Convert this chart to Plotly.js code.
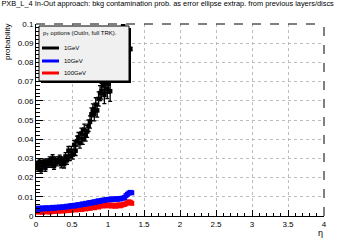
<!DOCTYPE html>
<html>
<head>
<meta charset="utf-8">
<script src="https://cdn.plot.ly/plotly-3.0.1.min.js"></script>
<style>html,body{margin:0;padding:0;background:#fff;}#chart{width:360px;height:240px;}</style>
</head>
<body>
<div id="chart"></div>
<script>
// eta bin centres
const eta = [0.01,0.03,0.05,0.07,0.09,0.11,0.13,0.15,0.17,0.19,
             0.21,0.23,0.25,0.27,0.29,0.31,0.33,0.35,0.37,0.39,
             0.41,0.43,0.45,0.47,0.49,0.51,0.53,0.55,0.57,0.59,
             0.61,0.63,0.65,0.67,0.69,0.71,0.73,0.75,0.77,0.79,
             0.81,0.83,0.85,0.87,0.89,0.91,0.93,0.95,0.97,0.99,
             1.01,1.03,1.05,1.07,1.09,1.11,1.13,1.15,1.17,1.19,
             1.21,1.23,1.25,1.27,1.29,1.31,1.33];

// 1 GeV
const etaBlack = [0.01,0.03,0.05,0.07,0.09,0.11,0.13,0.15,0.17,0.19,
                  0.21,0.23,0.25,0.27,0.29,0.31,0.33,0.35,0.37,0.39,
                  0.41,0.43,0.45,0.47,0.49,0.51,0.53,0.55,0.57,0.59,
                  0.61,0.63,0.65,0.67,0.69,0.71,0.73,0.75,0.77,0.79,
                  0.81,0.83,0.85,0.87,0.89,0.91,0.93,0.95,0.97,0.99,
                  1.01,1.03,1.21,1.31];
const prob1GeV = [0.027,0.025,0.028,0.024,0.027,0.028,0.025,0.028,0.027,0.029,
                  0.027,0.030,0.026,0.029,0.028,0.029,0.030,0.027,0.029,0.027,
                  0.031,0.029,0.034,0.031,0.034,0.032,0.037,0.034,0.039,0.041,
                  0.038,0.043,0.040,0.045,0.042,0.044,0.047,0.049,0.053,0.055,
                  0.053,0.058,0.055,0.061,0.064,0.065,0.068,0.063,0.069,0.066,
                  0.069,0.065,0.099,0.087];
const err1GeV  = [0.0016,0.0017,0.0016,0.0018,0.0017,0.0016,0.0018,0.0017,0.0016,0.0018,
                  0.0017,0.0019,0.0017,0.0018,0.0019,0.0018,0.0017,0.0019,0.0018,0.0020,
                  0.0020,0.0021,0.0022,0.0021,0.0023,0.0024,0.0023,0.0025,0.0026,0.0025,
                  0.0027,0.0028,0.0027,0.0029,0.0030,0.0031,0.0030,0.0032,0.0033,0.0034,
                  0.0035,0.0036,0.0035,0.0037,0.0039,0.0041,0.0043,0.0045,0.0047,0.0049,
                  0.0051,0.0053,0.0008,0.0008];

// 10 GeV
const prob10GeV = [0.0036,0.0041,0.0035,0.0040,0.0042,0.0037,0.0041,0.0043,0.0038,0.0042,
                   0.0041,0.0045,0.0040,0.0044,0.0046,0.0043,0.0047,0.0044,0.0048,0.0045,
                   0.0048,0.0051,0.0048,0.0052,0.0054,0.0051,0.0056,0.0053,0.0057,0.0059,
                   0.0056,0.0061,0.0063,0.0060,0.0066,0.0063,0.0068,0.0070,0.0067,0.0072,
                   0.0074,0.0071,0.0077,0.0079,0.0076,0.0081,0.0083,0.0080,0.0085,0.0086,
                   0.0087,0.0084,0.0088,0.0089,0.0086,0.0090,0.0087,0.0091,0.0088,0.0092,
                   0.0093,0.0096,0.0106,0.0113,0.0119,0.0123,0.0121];
// 100 GeV
const prob100GeV = [0.0026,0.0020,0.0027,0.0023,0.0019,0.0026,0.0022,0.0027,0.0023,0.0020,
                    0.0027,0.0023,0.0028,0.0024,0.0029,0.0025,0.0030,0.0026,0.0031,0.0027,
                    0.0031,0.0028,0.0032,0.0034,0.0029,0.0033,0.0035,0.0032,0.0036,0.0033,
                    0.0037,0.0034,0.0038,0.0040,0.0037,0.0041,0.0043,0.0040,0.0044,0.0046,
                    0.0043,0.0048,0.0050,0.0047,0.0053,0.0056,0.0052,0.0057,0.0059,0.0053,
                    0.0058,0.0054,0.0052,0.0057,0.0053,0.0051,0.0056,0.0058,0.0053,0.0057,
                    0.0059,0.0061,0.0064,0.0069,0.0074,0.0071,0.0066];

const seriesNames = ['1GeV','10GeV','100GeV'];
const seriesColors = ['#000000','#0000ff','#ff0000'];
const xTicks = [0,0.5,1,1.5,2,2.5,3,3.5,4];
const yTicks = [0,0.01,0.02,0.03,0.04,0.05,0.06,0.07,0.08,0.09,0.1];
const titleText = 'PXB_L_4 In-Out approach: bkg contamination prob. as error ellipse extrap. from previous layers/discs';
const legendTitle = 'p<sub>T</sub> options (OutIn, full TRK).';

const FONT = 'Liberation Sans, Arial, Helvetica, sans-serif';

const traces = [
  {x: eta, y: prob100GeV, type:'scatter', mode:'markers', name: seriesNames[2],
   marker:{symbol:'square', size:5, color:seriesColors[2]},
   error_y:{type:'constant', value:0.0005, color:seriesColors[2], thickness:1, width:0}},
  {x: eta, y: prob10GeV, type:'scatter', mode:'markers', name: seriesNames[1],
   marker:{symbol:'square', size:5, color:seriesColors[1]},
   error_y:{type:'constant', value:0.0005, color:seriesColors[1], thickness:1, width:0}},
  {x: etaBlack, y: prob1GeV, type:'scatter', mode:'markers', name: seriesNames[0],
   marker:{symbol:'square', size:4.5, color:seriesColors[0]},
   error_y:{type:'data', array:err1GeV, color:seriesColors[0], thickness:1.3, width:2}}
];

function px2x(p){ return (p-36)/288; }
function px2y(p){ return (216-p)/192; }

const shapes = [
  {type:'line', xref:'paper', yref:'paper', x0:0, x1:1, y0:1, y1:1, line:{color:'#000', width:1, dash:'dash'}},
  {type:'line', xref:'paper', yref:'paper', x0:1, x1:1, y0:0, y1:1, line:{color:'#000', width:1, dash:'dash'}},
  {type:'rect', xref:'paper', yref:'paper', x0:px2x(41), x1:px2x(131), y0:px2y(83), y1:px2y(28),
   line:{width:0}, fillcolor:'#000'},
  {type:'rect', xref:'paper', yref:'paper', x0:px2x(39), x1:px2x(129), y0:px2y(81), y1:px2y(26),
   line:{color:'#000', width:1}, fillcolor:'#f0f0f0'}
];
const legendY = [48, 61, 73];
const annotations = [
  {text: legendTitle, xref:'paper', yref:'paper', x:px2x(41), y:px2y(33), xanchor:'left', yanchor:'middle',
   showarrow:false, font:{family:FONT, size:6, color:'#000'}},
  {text:'probability', xref:'paper', yref:'paper', x:px2x(8), y:px2y(22), xanchor:'center', yanchor:'top',
   textangle:-90, showarrow:false, font:{family:FONT, size:8, color:'#000'}},
  {text:'η', xref:'paper', yref:'paper', x:px2x(325), y:px2y(226), xanchor:'right', yanchor:'top',
   showarrow:false, font:{family:FONT, size:9, color:'#000'}}
];
for (let i=0;i<3;i++){
  shapes.push({type:'line', xref:'paper', yref:'paper', x0:px2x(42), x1:px2x(59), y0:px2y(legendY[i]), y1:px2y(legendY[i]),
    line:{color:seriesColors[i], width:3}});
  annotations.push({text:seriesNames[i], xref:'paper', yref:'paper', x:px2x(62), y:px2y(legendY[i]),
    xanchor:'left', yanchor:'middle', showarrow:false, font:{family:FONT, size:6, color:'#000'}});
}

const layout = {
  width:360, height:240,
  margin:{l:36, r:36, t:24, b:24, pad:0},
  paper_bgcolor:'#fff', plot_bgcolor:'#fff',
  showlegend:false,
  font:{family:FONT, color:'#000'},
  title:{text:titleText, x:0.004, xref:'container', xanchor:'left', y:0.995, yref:'container', yanchor:'top',
         font:{family:FONT, size:7.4, color:'#000'}},
  xaxis:{range:[0,4], tickvals:xTicks, ticks:'inside', ticklen:6, tickwidth:1, tickcolor:'#000',
         showline:true, linecolor:'#000', linewidth:1, mirror:false, zeroline:false,
         showgrid:true, gridcolor:'#bdbdbd', griddash:'dot', gridwidth:1,
         tickfont:{family:FONT, size:8, color:'#000'},
         minor:{dtick:0.1, ticks:'inside', ticklen:3, tickcolor:'#000', showgrid:false}},
  yaxis:{range:[0,0.1], tickvals:yTicks, ticks:'inside', ticklen:7, tickwidth:1, tickcolor:'#000',
         showline:true, linecolor:'#000', linewidth:1, mirror:false, zeroline:false,
         showgrid:true, gridcolor:'#bdbdbd', griddash:'dot', gridwidth:1,
         tickfont:{family:FONT, size:8, color:'#000'},
         minor:{dtick:0.002, ticks:'inside', ticklen:4, tickcolor:'#000', showgrid:false}},
  shapes:shapes,
  annotations:annotations
};

Plotly.newPlot('chart', traces, layout, {displayModeBar:false, staticPlot:true});
</script>
</body>
</html>
